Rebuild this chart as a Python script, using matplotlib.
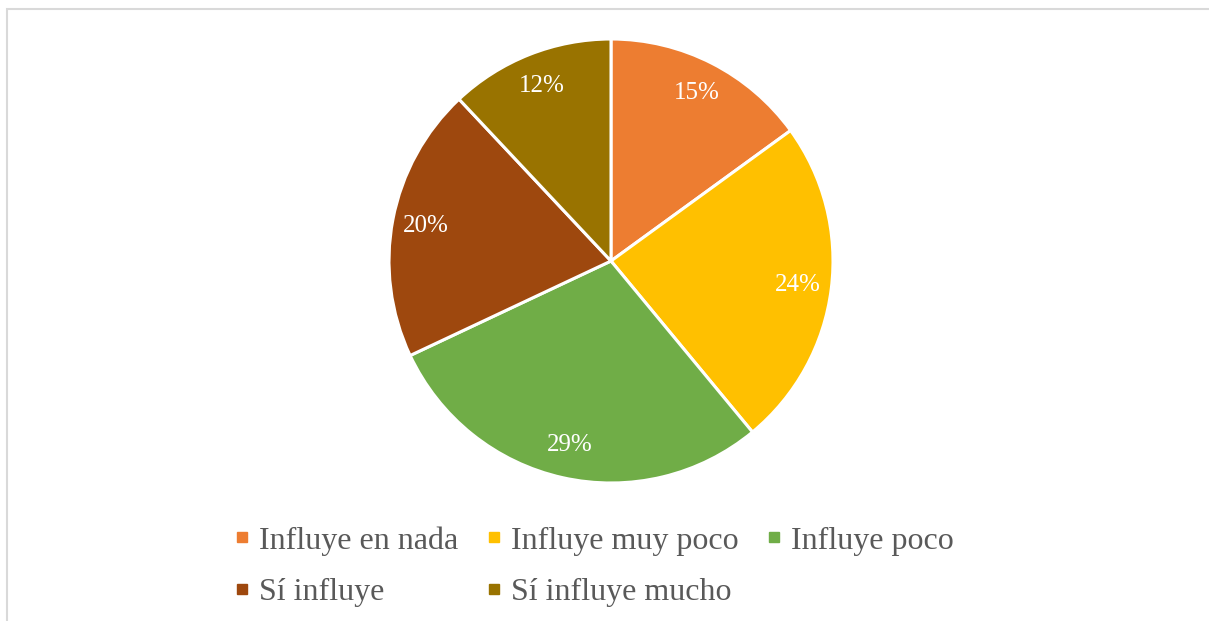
import matplotlib.pyplot as plt
from matplotlib.lines import Line2D
from matplotlib.patches import Rectangle

plt.rcParams['font.family'] = ['Liberation Serif', 'DejaVu Serif']

# survey answers and their shares (%)
categories = ['Influye en nada', 'Influye muy poco', 'Influye poco',
              'Sí influye', 'Sí influye mucho']
shares = [15, 24, 29, 20, 12]
colors = ['#ED7D31', '#FFC000', '#70AD47', '#9E480E', '#997300']

W, H = 1209, 621
fig = plt.figure(figsize=(W / 100, H / 100), dpi=100)

# thin grey frame around the chart area
fig.patches.append(Rectangle((7 / W, -0.05), 1.1, (H - 8.5) / H + 0.05,
                             transform=fig.transFigure, fill=False,
                             edgecolor='#D9D9D9', linewidth=1.5))

# pie centred at (611, 261) px with a 222 px radius
cx, cy, r = 611, 261, 222
ax = fig.add_axes([(cx - r) / W, (H - cy - r) / H, 2 * r / W, 2 * r / H])
wedges, _, autotexts = ax.pie(shares, colors=colors, startangle=90,
                              counterclock=False, autopct='%d%%',
                              pctdistance=0.85,
                              wedgeprops=dict(edgecolor='white', linewidth=2.2),
                              textprops=dict(color='white', fontsize=18))
ax.set_xlim(-1, 1)
ax.set_ylim(-1, 1)
ax.set_aspect('equal')
ax.axis('off')

# legend is filled column by column, so reorder to read row by row
handles = [Line2D([], [], linestyle='none', marker='s', markersize=7,
                  markerfacecolor=c, markeredgecolor=c) for c in colors]
order = [0, 3, 1, 4, 2]
leg = fig.legend([handles[i] for i in order], [categories[i] for i in order],
                 ncol=3, loc='upper left', bbox_to_anchor=(235 / W, 1 - 526 / H),
                 frameon=False, fontsize=23, handlelength=0.45,
                 handletextpad=0.3, columnspacing=0.9, labelspacing=0.7,
                 borderpad=0, borderaxespad=0)
for t in leg.get_texts():
    t.set_color('#595959')

fig.savefig('out.png', dpi=100)
